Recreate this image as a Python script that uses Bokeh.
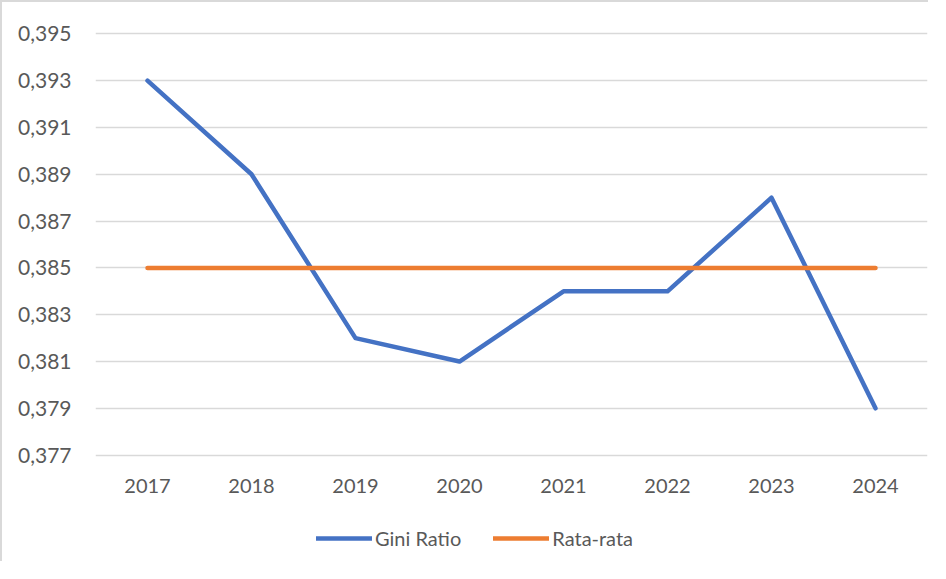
from bokeh.plotting import figure
from bokeh.layouts import column
from bokeh.models import FactorRange, Range1d, FixedTicker, CustomJSTickFormatter, Legend, LegendItem
from bokeh.embed import file_html
from bokeh.resources import INLINE

years = ["2017", "2018", "2019", "2020", "2021", "2022", "2023", "2024"]
gini = [0.393, 0.389, 0.382, 0.381, 0.384, 0.384, 0.388, 0.379]
avg = [0.385] * 8
y_ticks = [0.377, 0.379, 0.381, 0.383, 0.385, 0.387, 0.389, 0.391, 0.393, 0.395]
series_names = ["Gini Ratio", "Rata-rata"]
series_colors = ["#4472C4", "#ED7D31"]

FONT = "Lato"
TXT = "#595959"
BORDER = "2px solid #d9d9d9"

p = figure(width=928, height=520, output_backend="svg", toolbar_location=None,
           x_range=FactorRange(*years, range_padding=0),
           y_range=Range1d(0.3769, 0.3951),
           min_border_left=93, min_border_right=3, min_border_top=29, min_border_bottom=65,
           styles={"border-top": BORDER, "border-left": BORDER})
p.outline_line_color = None

p.xgrid.grid_line_color = None
p.ygrid.grid_line_color = "#d9d9d9"
p.ygrid.grid_line_width = 1.5
p.yaxis.ticker = FixedTicker(ticks=y_ticks)
p.yaxis.formatter = CustomJSTickFormatter(code="return tick.toFixed(3).replace('.', ',');")
for ax in (p.xaxis[0], p.yaxis[0]):
    ax.axis_line_color = None
    ax.major_tick_line_color = None
    ax.minor_tick_line_color = None
    ax.major_label_text_font = FONT
    ax.major_label_text_font_size = "20px"
    ax.major_label_text_color = TXT
p.yaxis.major_label_text_font_size = "21px"
p.yaxis.major_label_standoff = 18
p.xaxis.major_label_standoff = 15

series = [gini, avg]
for vals, col in zip(series, series_colors):
    p.line(years, vals, line_color=col, line_width=4.5, line_cap="round", line_join="round")

# legend strip below the chart (series drawn out of view, only legend shows)
lg = figure(width=928, height=41, output_backend="svg", toolbar_location=None,
            x_range=FactorRange(*years, range_padding=0), y_range=Range1d(10, 11),
            x_axis_type=None, y_axis_type=None,
            min_border_left=0, min_border_right=0, min_border_top=0, min_border_bottom=0,
            styles={"border-left": BORDER})
lg.outline_line_color = None
lg.xgrid.grid_line_color = None
lg.ygrid.grid_line_color = None
items = []
for name, vals, col in zip(series_names, series, series_colors):
    r = lg.line(years, vals, line_color=col, line_width=4.5, line_cap="round")
    items.append(LegendItem(label=name, renderers=[r]))
legend = Legend(items=items, orientation="horizontal", location=(221, 11),
                label_text_font=FONT, label_text_font_size="20px", label_text_color=TXT,
                glyph_width=56, glyph_height=20, label_standoff=3, spacing=32,
                border_line_color=None, background_fill_alpha=0, padding=5, margin=0)
lg.add_layout(legend, "center")

open("out.html", "w").write(file_html(column(p, lg, spacing=0), INLINE))
